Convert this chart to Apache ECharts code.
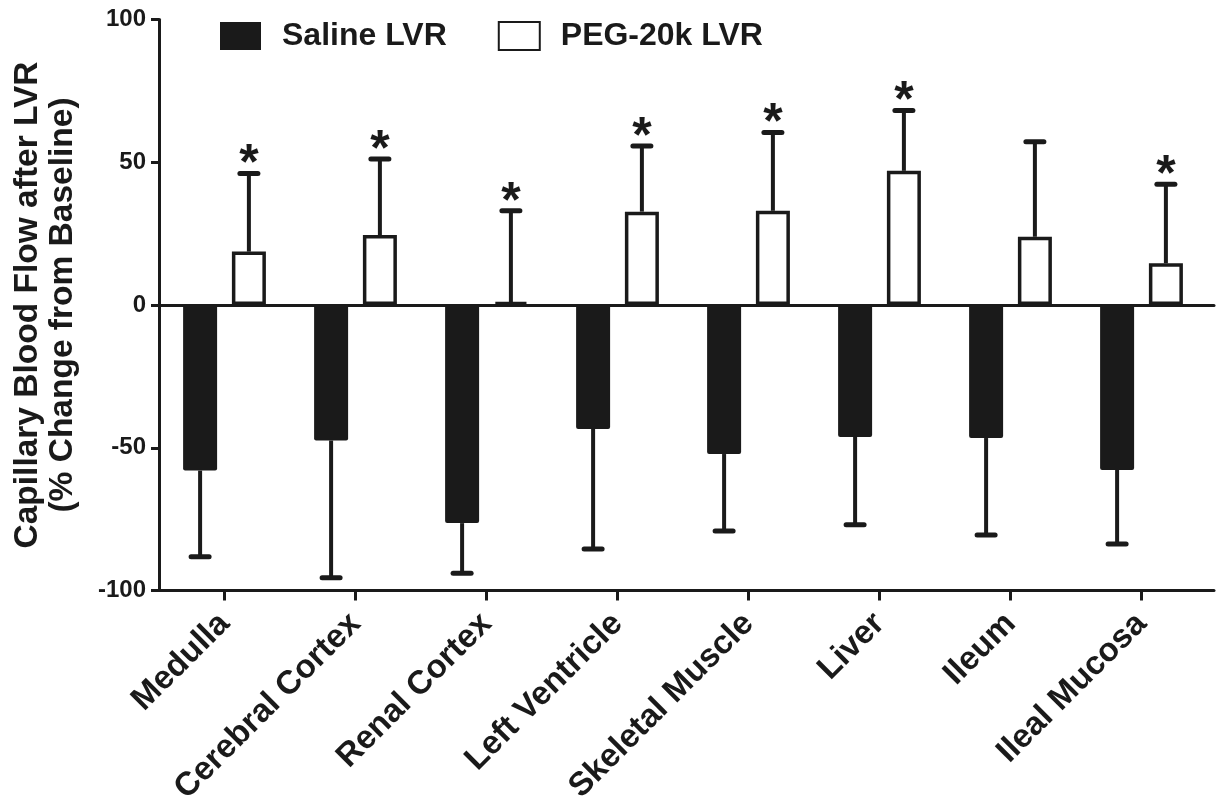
<!DOCTYPE html>
<html>
<head>
<meta charset="utf-8">
<script src="https://cdn.jsdelivr.net/npm/echarts@6/dist/echarts.min.js"></script>
<style>
html,body{margin:0;padding:0;background:#fff;}
#chart{width:1219px;height:810px;}
</style>
</head>
<body>
<div id="chart"></div>
<script>
// ---- data ----
var categories = ['Medulla', 'Cerebral Cortex', 'Renal Cortex', 'Left Ventricle', 'Skeletal Muscle', 'Liver', 'Ileum', 'Ileal Mucosa'];
var salineMean = [-58, -47.5, -76.4, -43.4, -52.2, -46.2, -46.6, -57.8];
var salineSD   = [30.2, 48, 17.6, 42.1, 27, 30.8, 34, 25.9];
var pegMean    = [18.7, 24.5, 1, 32.7, 33, 47, 23.9, 14.6];
var pegSD      = [27.4, 26.6, 32, 23, 27.4, 21.1, 33.3, 27.7];
var pegSignificant = [true, true, true, true, true, true, false, true];
var yTicks = [-100, -50, 0, 50, 100];
var seriesNames = ['Saline LVR', 'PEG-20k LVR'];
var yAxisName = 'Capillary Blood Flow after LVR\n(% Change from Baseline)';

// ---- style ----
var INK = '#1a1a1a';
var FONT = '"Liberation Sans", Arial, sans-serif';
var BAR_W = 34;
var GAP = 0.435;
var OFFSET = BAR_W * (1 + GAP) / 2;
var GRID_TOP = 19.5, GRID_BOTTOM = 219.5;

function errorSeries(name, means, sds, sign, offset, sig) {
  var data = means.map(function (m, i) {
    return [i, m, sds[i], sig ? (sig[i] ? 1 : 0) : 0];
  });
  return {
    type: 'custom',
    name: name + ' err',
    xAxisIndex: 2,
    yAxisIndex: 1,
    z: 5,
    silent: true,
    encode: { x: 0, y: 1 },
    data: data,
    renderItem: function (params, api) {
      var idx = api.value(0), m = api.value(1), sd = api.value(2), s = api.value(3);
      var p0 = api.coord([idx, m]);
      var p1 = api.coord([idx, m + sign * sd]);
      var x = p0[0] + offset;
      var children = [
        { type: 'line', shape: { x1: x, y1: p0[1], x2: x, y2: p1[1] },
          style: { stroke: INK, lineWidth: 4 } },
        { type: 'line', shape: { x1: x - 9, y1: p1[1], x2: x + 9, y2: p1[1] },
          style: { stroke: INK, lineWidth: 5, lineCap: 'round' } }
      ];
      if (s) {
        children.push({ type: 'text', x: x, y: p1[1] - 8,
          style: { text: '*', fill: INK, font: 'bold 50px ' + FONT, align: 'center', verticalAlign: 'middle' } });
      }
      return { type: 'group', children: children };
    }
  };
}

var chart = echarts.init(document.getElementById('chart'));
chart.setOption({
  backgroundColor: '#fff',
  animation: false,
  legend: {
    data: seriesNames,
    left: 220, top: 20, padding: 0,
    itemWidth: 41, itemHeight: 28,
    itemGap: 51,
    icon: 'rect',
    textStyle: { fontFamily: FONT, fontWeight: 'bold', fontSize: 32, color: INK, padding: [0, 0, 0, 16] }
  },
  grid: [
    { left: 159, right: 5, top: GRID_TOP, bottom: GRID_BOTTOM },
    { left: 159, right: 12, top: GRID_TOP, bottom: GRID_BOTTOM }
  ],
  xAxis: [
    { type: 'value', gridIndex: 0, min: 0, max: 1, position: 'bottom',
      axisLine: { show: true, onZero: false, lineStyle: { color: INK, width: 3 } },
      axisTick: { show: false }, axisLabel: { show: false }, splitLine: { show: false } },
    { type: 'value', gridIndex: 0, min: 0, max: 1, position: 'top',
      axisLine: { show: true, onZero: true, lineStyle: { color: INK, width: 3 } },
      axisTick: { show: false }, axisLabel: { show: false }, splitLine: { show: false } },
    { type: 'category', gridIndex: 1, data: categories, position: 'bottom',
      axisLine: { show: false, onZero: false },
      axisTick: { show: true, alignWithLabel: true, length: 10, lineStyle: { color: INK, width: 3 } },
      axisLabel: { rotate: 45, margin: 28, interval: 0, fontFamily: FONT, fontWeight: 'bold', fontSize: 33, color: INK },
      splitLine: { show: false } }
  ],
  yAxis: [
    { type: 'value', gridIndex: 0, min: -100, max: 100, interval: 50,
      axisLine: { show: true, lineStyle: { color: INK, width: 3 } },
      axisTick: { show: true, length: 8, lineStyle: { color: INK, width: 3 } },
      axisLabel: { fontFamily: FONT, fontWeight: 'bold', fontSize: 24, color: INK, margin: 13,
        formatter: function (v) { return yTicks.indexOf(v) >= 0 ? String(v) : ''; } },
      splitLine: { show: false },
      name: yAxisName, nameLocation: 'middle', nameGap: 79, nameRotate: 90,
      nameTextStyle: { fontFamily: FONT, fontWeight: 'bold', fontSize: 33.5, color: INK, lineHeight: 35 } },
    { type: 'value', gridIndex: 1, min: -100, max: 100, interval: 50, show: false }
  ],
  series: [
    { type: 'bar', name: seriesNames[0], xAxisIndex: 2, yAxisIndex: 1, data: salineMean,
      barWidth: BAR_W, barGap: (GAP * 100) + '%',
      itemStyle: { color: INK, borderRadius: 2 } },
    { type: 'bar', name: seriesNames[1], xAxisIndex: 2, yAxisIndex: 1, data: pegMean,
      barWidth: BAR_W, barGap: (GAP * 100) + '%',
      itemStyle: { color: '#fff', borderColor: INK, borderWidth: 3.5 } },
    errorSeries(seriesNames[0], salineMean, salineSD, -1, -OFFSET, null),
    errorSeries(seriesNames[1], pegMean, pegSD, 1, OFFSET, pegSignificant)
  ]
});
</script>
</body>
</html>
